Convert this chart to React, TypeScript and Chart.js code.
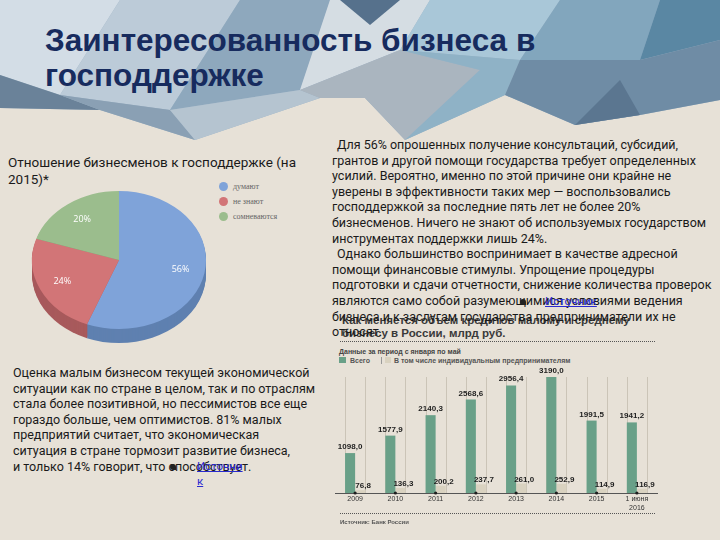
import React, { useEffect, useRef } from "react";
import { Chart, registerables } from "chart.js";
Chart.register(...registerables);

// ---------- data ----------
const pieLabels = ["думают", "не знают", "сомневаются"];
const pieValues = [56, 24, 20];
const pieColors = ["#7fa3d9", "#d27577", "#9bbd8d"];
const pieSideColors = ["#5f80b0", "#a85a5c", "#78996c"];

const years: (string | string[])[] = ["2009", "2010", "2011", "2012", "2013", "2014", "2015", ["1 июня", "2016"]];
const totalCredit = [1098.0, 1577.9, 2140.3, 2568.6, 2956.4, 3190.0, 1991.5, 1941.2];
const ipCredit = [76.8, 136.3, 200.2, 237.7, 261.0, 252.9, 114.9, 116.9];
const seriesNames = ["Всего", "В том числе индивидуальным предпринимателям"];
const barColors = ["#69a088", "#d9d2c0"];

const rightText = [
  "Для 56% опрошенных получение консультаций, субсидий,",
  "грантов и другой помощи государства требует определенных",
  "усилий. Вероятно, именно по этой причине они крайне не",
  "уверены в эффективности таких мер — воспользовались",
  "господдержкой за последние пять лет не более 20%",
  "бизнесменов. Ничего не знают об используемых государством",
  "инструментах поддержки лишь 24%.",
  "Однако большинство воспринимает в качестве адресной",
  "помощи финансовые стимулы. Упрощение процедуры",
  "подготовки и сдачи отчетности, снижение количества проверок",
  "являются само собой разумеющимися условиями ведения",
  "бизнеса и к заслугам государства предприниматели их не",
  "относят.",
];
const rightIndented = [0, 7];

const leftText = [
  "Оценка малым бизнесом текущей экономической",
  "ситуации как по стране в целом, так и по отраслям",
  "стала более позитивной, но пессимистов все еще",
  "гораздо больше, чем оптимистов. 81% малых",
  "предприятий считает, что экономическая",
  "ситуация в стране тормозит развитие бизнеса,",
  "и только 14% говорит, что способствует.",
];

const fmt = (v: number) => v.toFixed(1).replace(".", ",");

// decorative header facets
const facets: [string, string][] = [
  ["0,0 720,0 720,100 640,115 575,125 505,95 405,140 365,98 320,98 195,140 100,110 0,108", "#9db3c5"],
  ["0,0 120,0 60,95 0,75", "#d3dde6"],
  ["120,0 240,0 170,110 60,95", "#bccbd8"],
  ["0,75 60,95 100,110 0,108", "#6a8299"],
  ["60,95 170,110 195,140 100,110", "#8aa0b4"],
  ["240,0 330,0 300,90 170,110", "#8ea8bd"],
  ["170,110 300,90 320,98 195,140", "#b5c4d0"],
  ["330,0 430,0 400,50 300,90", "#d5dde3"],
  ["340,0 400,0 370,25", "#56718c"],
  ["300,90 400,50 480,70 405,140 365,98 320,98", "#aab5bf"],
  ["430,0 560,0 520,60 400,50", "#a9c7d8"],
  ["400,50 520,60 505,95 405,140 480,70", "#8fb2c6"],
  ["560,0 660,0 640,60 520,60", "#82a6bd"],
  ["660,0 720,0 720,40 640,60", "#5a87a3"],
  ["520,60 640,60 720,40 720,100 640,115 575,125 505,95", "#6f8ca5"],
  ["575,125 640,115 620,80", "#5b7690"],
];

const SY = 69 / 87;
const DEPTH = 14;

const pie3d = {
  id: "pie3d",
  beforeDatasetsDraw(chart: any) {
    const ctx = chart.ctx;
    const meta = chart.getDatasetMeta(0);
    const e0 = meta.data[0];
    const cx = e0.x, cy = e0.y;
    ctx.save();
    ctx.translate(cx, cy);
    ctx.scale(1, SY);
    ctx.translate(-cx, -cy);
    for (let d = DEPTH; d >= 1; d--) {
      meta.data.forEach((el: any, i: number) => {
        const oy = d / SY;
        ctx.beginPath();
        ctx.moveTo(el.x, el.y + oy);
        ctx.arc(el.x, el.y + oy, el.outerRadius, el.startAngle, el.endAngle);
        ctx.closePath();
        ctx.fillStyle = pieSideColors[i];
        ctx.fill();
      });
    }
  },
  afterDatasetsDraw(chart: any) {
    const ctx = chart.ctx;
    ctx.restore();
    const meta = chart.getDatasetMeta(0);
    ctx.save();
    ctx.fillStyle = "#ffffff";
    ctx.font = "9px 'Open Sans', sans-serif";
    ctx.textAlign = "center";
    ctx.textBaseline = "middle";
    meta.data.forEach((el: any, i: number) => {
      const mid = (el.startAngle + el.endAngle) / 2;
      const r = el.outerRadius * 0.72;
      ctx.fillText(pieValues[i] + "%", el.x + Math.cos(mid) * r, el.y + Math.sin(mid) * r * SY);
    });
    ctx.restore();
  },
};

const barDecor = {
  id: "barDecor",
  beforeDatasetsDraw(chart: any) {
    const ctx = chart.ctx;
    const a = chart.chartArea;
    const m0 = chart.getDatasetMeta(0);
    const m1 = chart.getDatasetMeta(1);
    ctx.save();
    ctx.strokeStyle = "#cbc4b7";
    ctx.lineWidth = 1;
    m0.data.forEach((g: any, i: number) => {
      const l = m1.data[i];
      const xs = [Math.round(g.x - g.width / 2) + 0.5, Math.round(l.x + l.width / 2) + 0.5];
      xs.forEach((x) => {
        ctx.beginPath();
        ctx.moveTo(x, a.top);
        ctx.lineTo(x, a.bottom);
        ctx.stroke();
      });
    });
    ctx.restore();
  },
  afterDatasetsDraw(chart: any) {
    const ctx = chart.ctx;
    const a = chart.chartArea;
    const m0 = chart.getDatasetMeta(0);
    const m1 = chart.getDatasetMeta(1);
    const xs = chart.scales.x;
    ctx.save();
    ctx.fillStyle = "#1e1e1e";
    ctx.font = "bold 8px 'Liberation Sans', Arial, sans-serif";
    ctx.textAlign = "center";
    ctx.textBaseline = "alphabetic";
    m0.data.forEach((el: any, i: number) => {
      ctx.fillText(fmt(totalCredit[i]), el.x, el.y - 4);
    });
    m1.data.forEach((el: any, i: number) => {
      ctx.fillText(fmt(ipCredit[i]), el.x + 3, el.y - 2);
    });
    years.forEach((_, i) => {
      const x = xs.getPixelForValue(i);
      ctx.beginPath();
      ctx.arc(x, a.bottom, 1.6, 0, Math.PI * 2);
      ctx.fill();
    });
    ctx.restore();
  },
};

function PieChart() {
  const ref = useRef<HTMLCanvasElement>(null);
  useEffect(() => {
    const chart = new Chart(ref.current!, {
      type: "pie",
      data: {
        labels: pieLabels,
        datasets: [{ data: pieValues, backgroundColor: pieColors, borderWidth: 0, hoverOffset: 0, offset: 0 }],
      },
      options: {
        animation: false,
        responsive: false,
        events: [],
        layout: { padding: 13 },
        plugins: { legend: { display: false }, tooltip: { enabled: false } },
      },
      plugins: [pie3d],
    } as any);
    return () => chart.destroy();
  }, []);
  return <canvas ref={ref} width={200} height={200} style={{ position: "absolute", left: 19, top: 160, width: 200, height: 200 }} />;
}

function BarChart() {
  const ref = useRef<HTMLCanvasElement>(null);
  useEffect(() => {
    const chart = new Chart(ref.current!, {
      type: "bar",
      data: {
        labels: years,
        datasets: [
          { label: seriesNames[0], data: totalCredit, backgroundColor: barColors[0], borderWidth: 0, categoryPercentage: 0.5, barPercentage: 1 },
          { label: seriesNames[1], data: ipCredit, backgroundColor: barColors[1], borderWidth: 0, categoryPercentage: 0.5, barPercentage: 1 },
        ],
      },
      options: {
        animation: false,
        responsive: false,
        events: [],
        layout: { padding: { left: 15, right: 8, top: 17, bottom: 0 } },
        plugins: { legend: { display: false }, tooltip: { enabled: false } },
        scales: {
          x: {
            grid: { display: false, drawTicks: false },
            border: { display: true, color: "#555", width: 1 },
            ticks: { color: "#333", font: { size: 7, family: "'Liberation Sans', Arial, sans-serif" }, padding: 2, maxRotation: 0, autoSkip: false },
            afterFit: (s: any) => { s.height = 25; },
          },
          y: { display: false, min: 0, max: 3190 },
        },
      },
      plugins: [barDecor],
    } as any);
    return () => chart.destroy();
  }, []);
  return <canvas ref={ref} width={345} height={158} style={{ position: "absolute", left: 320, top: 360, width: 345, height: 158 }} />;
}

const bodyFont = "Roboto, 'Open Sans', sans-serif";
const smallBold = "'Liberation Sans', Arial, sans-serif";

export default function App() {
  return (
    <div style={{ position: "absolute", left: 0, top: 0, width: 720, height: 540, overflow: "hidden", background: "#e7e1d7", fontFamily: bodyFont }}>
      <svg width={720} height={145} style={{ position: "absolute", left: 0, top: 0 }}>
        {facets.map(([p, c], i) => (
          <polygon key={i} points={p} fill={c} />
        ))}
      </svg>
      <div style={{ position: "absolute", left: 45, top: 23, fontFamily: "'Liberation Sans', Arial, sans-serif", fontWeight: "bold", fontSize: 31.5, lineHeight: "35px", color: "#172b5e", whiteSpace: "pre" }}>
        {"Заинтересованность бизнеса в\nгосподдержке"}
      </div>

      <div style={{ position: "absolute", left: 8, top: 154, fontSize: 13.5, lineHeight: "17px", color: "#1a1a1a", whiteSpace: "pre" }}>
        {"Отношение бизнесменов к господдержке (на\n2015)*"}
      </div>

      <PieChart />

      <div style={{ position: "absolute", left: 219, top: 179, fontFamily: "'Liberation Serif', serif", fontSize: 8, color: "#666" }}>
        {pieLabels.map((l, i) => (
          <div key={i} style={{ height: 15, display: "flex", alignItems: "center" }}>
            <span style={{ width: 9, height: 9, borderRadius: "50%", background: pieColors[i], display: "inline-block", marginRight: 5 }} />
            {l}
          </div>
        ))}
      </div>

      <div style={{ position: "absolute", left: 13, top: 365, fontSize: 12.5, lineHeight: "15.6px", color: "#1a1a1a", whiteSpace: "pre" }}>
        {leftText.map((l, i) => (
          <div key={i}>{l}</div>
        ))}
      </div>
      <span style={{ position: "absolute", left: 170, top: 464, width: 6, height: 6, background: "#222", borderRadius: "50% 50% 10% 50%" }} />
      <div style={{ position: "absolute", left: 197, top: 459, fontSize: 11.5, lineHeight: "15px", color: "#2a2ad0", textDecoration: "underline", whiteSpace: "pre" }}>
        {"Источни\nк"}
      </div>

      {/* bar chart texts */}
      <div style={{ position: "absolute", left: 342, top: 314, fontFamily: smallBold, fontWeight: "bold", fontSize: 11.5, lineHeight: "12.5px", color: "#3a3a3a", whiteSpace: "pre" }}>
        {"Как меняется объем кредитов малому и среднему\nбизнесу в России, млрд руб."}
      </div>

      <div style={{ position: "absolute", left: 332, top: 137, fontSize: 12.5, lineHeight: "15.6px", color: "#1a1a1a", whiteSpace: "pre" }}>
        {rightText.map((l, i) => (
          <div key={i} style={{ paddingLeft: rightIndented.includes(i) ? 5 : 0 }}>{l}</div>
        ))}
      </div>
      <span style={{ position: "absolute", left: 520, top: 299, width: 6, height: 6, background: "#222", borderRadius: "50% 50% 10% 50%" }} />
      <div style={{ position: "absolute", left: 545, top: 294, fontSize: 11.5, lineHeight: "15px", color: "#2a2ad0", textDecoration: "underline" }}>
        Источник
      </div>

      <div style={{ position: "absolute", left: 340, top: 341, width: 315, borderTop: "1px dotted #555" }} />
      <div style={{ position: "absolute", left: 339, top: 348, fontFamily: smallBold, fontWeight: "bold", fontSize: 7, lineHeight: "8px", color: "#444", whiteSpace: "pre" }}>
        Данные за период с января по май
      </div>
      <div style={{ position: "absolute", left: 339, top: 356, height: 8, display: "flex", alignItems: "center", fontFamily: smallBold, fontWeight: "bold", fontSize: 7, color: "#555", whiteSpace: "pre" }}>
        <span style={{ width: 7, height: 6, background: barColors[0], display: "inline-block", marginRight: 4 }} />
        <span>{seriesNames[0]}</span>
        <span style={{ width: 1, height: 7, background: "#999", display: "inline-block", margin: "0 3px 0 11px" }} />
        <span style={{ width: 6, height: 6, background: barColors[1], display: "inline-block", marginRight: 3 }} />
        <span>{seriesNames[1]}</span>
      </div>

      <BarChart />

      <div style={{ position: "absolute", left: 340, top: 513, width: 315, borderTop: "1px dotted #555" }} />
      <div style={{ position: "absolute", left: 340, top: 518, fontFamily: smallBold, fontWeight: "bold", fontSize: 6, lineHeight: "8px", color: "#555", whiteSpace: "pre" }}>
        Источник: Банк России
      </div>
    </div>
  );
}
